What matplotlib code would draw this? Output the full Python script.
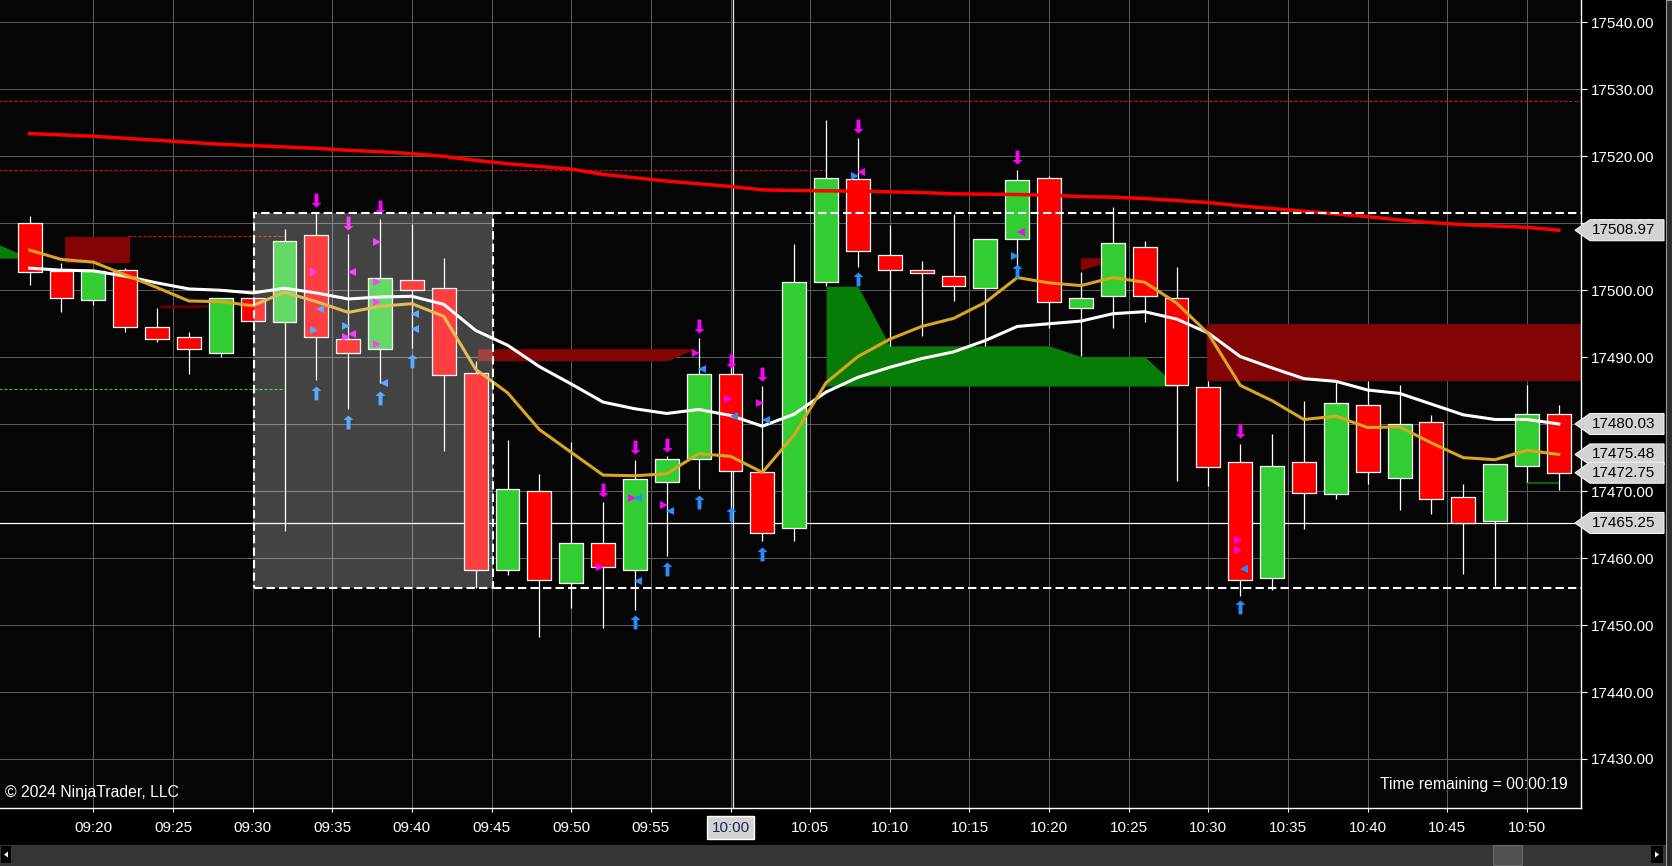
import matplotlib
matplotlib.use("Agg")
import matplotlib.pyplot as plt
from matplotlib.patches import Polygon, Rectangle
from matplotlib.path import Path
from matplotlib.transforms import IdentityTransform

plt.rcParams["font.family"] = ["Liberation Sans", "DejaVu Sans"]

W, H = 1672, 866

# 2 minute bars, 09:16 .. 10:52
bar_times = ["09:16", "09:18", "09:20", "09:22", "09:24", "09:26", "09:28",
             "09:30", "09:32", "09:34", "09:36", "09:38", "09:40", "09:42",
             "09:44", "09:46", "09:48", "09:50", "09:52", "09:54", "09:56",
             "09:58", "10:00", "10:02", "10:04", "10:06", "10:08", "10:10",
             "10:12", "10:14", "10:16", "10:18", "10:20", "10:22", "10:24",
             "10:26", "10:28", "10:30", "10:32", "10:34", "10:36", "10:38",
             "10:40", "10:42", "10:44", "10:46", "10:48", "10:50", "10:52"]
opens = [17510.1, 17502.9, 17498.6, 17503.0, 17494.5, 17493.0, 17490.7,
         17498.9, 17495.3, 17508.2, 17492.7, 17491.2, 17501.5, 17500.4,
         17487.6, 17458.2, 17470.0, 17456.3, 17462.3, 17458.2, 17471.3,
         17474.8, 17487.5, 17472.9, 17464.5, 17501.3, 17516.6, 17505.2,
         17503.0, 17502.2, 17500.3, 17507.7, 17516.7, 17497.4, 17499.2,
         17506.5, 17498.9, 17485.5, 17474.3, 17457.0, 17474.3, 17469.5,
         17482.9, 17471.9, 17480.3, 17469.2, 17465.5, 17473.7, 17481.5]
highs = [17511.1, 17504.0, 17503.1, 17503.3, 17497.3, 17493.8, 17498.9,
         17498.9, 17509.1, 17511.7, 17508.4, 17510.6, 17509.9, 17504.8,
         17489.4, 17477.7, 17472.5, 17477.4, 17468.4, 17474.7, 17475.2,
         17492.9, 17488.8, 17485.7, 17506.9, 17525.5, 17522.8, 17509.8,
         17504.4, 17511.4, 17507.7, 17517.9, 17517.1, 17502.7, 17512.4,
         17507.3, 17503.5, 17486.4, 17477.1, 17478.6, 17483.4, 17486.4,
         17486.5, 17485.8, 17481.3, 17471.0, 17474.0, 17485.8, 17482.9]
lows = [17500.8, 17496.8, 17497.8, 17493.7, 17492.2, 17487.5, 17490.1,
        17495.3, 17464.0, 17486.6, 17482.3, 17486.1, 17491.4, 17476.0,
        17455.5, 17457.5, 17448.2, 17452.6, 17449.6, 17452.3, 17460.3,
        17470.3, 17465.6, 17462.6, 17462.6, 17500.7, 17503.5, 17491.7,
        17493.2, 17498.4, 17491.7, 17503.4, 17494.3, 17490.2, 17494.4,
        17495.2, 17471.5, 17470.7, 17454.3, 17455.2, 17464.3, 17468.8,
        17471.1, 17467.2, 17466.6, 17457.7, 17455.8, 17471.4, 17470.2]
closes = [17502.7, 17498.9, 17502.9, 17494.5, 17492.7, 17491.2, 17498.9,
          17495.4, 17507.4, 17493.0, 17490.7, 17501.9, 17500.1, 17487.4,
          17458.2, 17470.3, 17456.8, 17462.3, 17458.6, 17471.8, 17474.8,
          17487.5, 17473.0, 17463.8, 17501.3, 17516.7, 17505.8, 17503.0,
          17502.6, 17500.6, 17507.7, 17516.5, 17498.2, 17498.9, 17507.0,
          17499.2, 17485.8, 17473.6, 17456.7, 17473.7, 17469.7, 17483.2,
          17472.8, 17480.0, 17468.8, 17465.3, 17474.0, 17481.5, 17472.75]

# moving averages
ema_fast = [17506.0, 17504.6, 17504.2, 17502.3, 17500.4, 17498.4, 17498.3,
            17497.7, 17499.7, 17498.3, 17496.7, 17497.6, 17498.0, 17496.1,
            17488.2, 17484.7, 17479.2, 17475.8, 17472.4, 17472.3, 17472.6,
            17475.6, 17475.2, 17472.8, 17478.4, 17486.2, 17490.1, 17492.7,
            17494.6, 17495.8, 17498.2, 17501.9, 17501.1, 17500.7, 17501.9,
            17501.2, 17498.1, 17493.5, 17485.8, 17483.5, 17480.7, 17481.2,
            17479.5, 17479.6, 17477.2, 17475.0, 17474.7, 17476.1, 17475.48]
ema_slow = [17503.3, 17503.0, 17502.9, 17502.1, 17501.1, 17500.2, 17500.0,
            17499.6, 17500.3, 17499.6, 17498.7, 17499.0, 17499.1, 17497.9,
            17494.0, 17491.8, 17488.6, 17486.0, 17483.3, 17482.3, 17481.6,
            17482.2, 17481.3, 17479.7, 17481.5, 17484.8, 17487.0, 17488.5,
            17489.8, 17490.8, 17492.5, 17494.6, 17495.0, 17495.4, 17496.5,
            17496.8, 17495.7, 17493.6, 17490.1, 17488.4, 17486.8, 17486.4,
            17485.1, 17484.6, 17483.0, 17481.4, 17480.7, 17480.7, 17480.03]
sma_long = [17523.4, 17523.2, 17523.0, 17522.7, 17522.4, 17522.1, 17521.8,
            17521.6, 17521.4, 17521.2, 17520.9, 17520.7, 17520.4, 17520.0,
            17519.4, 17518.9, 17518.5, 17518.1, 17517.3, 17516.8, 17516.3,
            17515.9, 17515.5, 17515.0, 17514.9, 17514.85, 17514.8, 17514.7,
            17514.6, 17514.4, 17514.35, 17514.3, 17514.2, 17514.0, 17513.9,
            17513.7, 17513.4, 17513.1, 17512.6, 17512.2, 17511.8, 17511.4,
            17511.0, 17510.5, 17510.1, 17509.8, 17509.6, 17509.4, 17508.97]

# signal arrows (price at the arrow tip)
down_times = ["09:34", "09:36", "09:38", "09:52", "09:54", "09:56",
              "09:58", "10:00", "10:02", "10:08", "10:18", "10:32"]
down_tips = [17512.5, 17509.0, 17511.4, 17469.2, 17475.5, 17475.8,
             17493.6, 17488.4, 17486.5, 17523.5, 17518.8, 17478.0]
up_times = ["09:34", "09:36", "09:38", "09:40", "09:54", "09:56",
            "09:58", "10:00", "10:02", "10:08", "10:18", "10:32"]
up_tips = [17485.7, 17481.4, 17485.0, 17490.5, 17451.5, 17459.4,
           17469.4, 17467.6, 17461.7, 17502.7, 17503.9, 17453.7]

# small triangles (m = magenta, b = blue; > or < direction)
tri_times = ["09:34", "09:34", "09:34", "09:36", "09:36", "09:36", "09:36",
             "09:38", "09:38", "09:38", "09:38", "09:38", "09:40", "09:40",
             "09:52", "09:54", "09:54", "09:54", "09:56", "09:56", "09:58",
             "09:58", "10:00", "10:00", "10:02", "10:02", "10:08", "10:08",
             "10:18", "10:18", "10:32", "10:32", "10:32"]
tri_prices = [17502.7, 17497.25, 17494.0, 17502.8, 17494.6, 17493.0, 17493.5,
              17507.2, 17501.2, 17498.2, 17492.0, 17486.2, 17496.5, 17494.2,
              17458.6, 17469.0, 17469.0, 17456.6, 17467.9, 17467.0, 17490.7,
              17488.2, 17483.7, 17481.2, 17483.2, 17480.6, 17517.0, 17517.6,
              17508.7, 17505.1, 17462.7, 17461.2, 17458.4]
tri_kinds = ["m>", "b<", "b>", "m<", "b>", "m>", "m<",
             "m>", "m>", "m>", "m>", "b<", "b<", "b<",
             "m>", "m>", "b<", "b<", "m>", "b<", "m>",
             "b<", "m>", "b<", "m>", "b<", "b>", "m<",
             "m<", "b>", "m>", "m>", "b<"]

# zones
green_zone_t = ["10:06", "10:08", "10:10", "10:20", "10:22", "10:26", "10:28"]
green_zone_top = [17500.6, 17500.6, 17491.7, 17491.7, 17490.1, 17490.1, 17485.7]
green_zone_bottom = 17485.7
green_edge_t = ["09:14", "09:16"]
green_edge_top = [17506.9, 17504.8]
green_edge_bottom = 17504.8
red_rect_t = [("09:18.2", "09:22.3"), ("10:29.9", "10:58")]
red_rect_p = [(17504.1, 17508.0), (17486.4, 17495.0)]
red_band_t = ["09:44.15", "09:57.8", "09:56.1", "09:44.15"]
red_band_p = [17491.2, 17491.2, 17489.4, 17489.4]
red_thin_t = ["09:24.2", "09:27.7", "09:26.6", "09:24.2"]
red_thin_p = [17497.75, 17497.75, 17497.3, 17497.3]
red_flag_t = ["10:22.0", "10:23.2", "10:23.2", "10:22.0"]
red_flag_p = [17504.8, 17504.8, 17503.8, 17502.9]

# dotted level lines: (price, start, end, colour)
level_prices = [17528.2, 17517.9, 17508.1, 17485.2]
level_starts = ["09:10", "09:10", "09:22.2", "09:10"]
level_ends = ["11:00", "10:06", "09:32", "09:32"]
level_colors = ["#e01010", "#e01010", "#e01010", "#10e010"]

# highlighted range box
box_t = ("09:30.1", "09:45.1")
box_p = (17455.5, 17511.6)
last_line = 17465.25
crosshair_t = "10:00.16"
short_green_t = ["10:50", "10:52"]
short_green_p = 17471.2

price_labels = [17508.97, 17480.03, 17475.48, 17472.75, 17465.25]
tick_labels = ["09:20", "09:25", "09:30", "09:35", "09:40", "09:45", "09:50",
               "09:55", "10:00", "10:05", "10:10", "10:15", "10:20", "10:25",
               "10:30", "10:35", "10:40", "10:45", "10:50"]
y_ticks = [17430, 17440, 17450, 17460, 17470, 17480, 17490, 17500, 17510,
           17520, 17530, 17540]


def to_min(s):
    h, m = s.split(":")
    return int(h) * 60 + float(m)


def arrow_path(direction):
    # tip at (0, 0), shaft going away from the tip
    s = 1 if direction == "down" else -1
    pts = [(0, 0), (0.36, 0.32), (0.14, 0.32), (0.14, 1), (-0.14, 1),
           (-0.14, 0.32), (-0.36, 0.32), (0, 0)]
    return Path([(x, s * y) for x, y in pts], closed=True)


fig = plt.figure(figsize=(W / 100, H / 100), dpi=100, facecolor="#000000")
ax = fig.add_axes([0, (H - 808) / H, 1581 / W, 808 / H])
ax.set_facecolor("#050505")
ax.set_xlim(554.14, 653.39)
ax.set_ylim(17422.68, 17543.35)
x0, x1 = ax.get_xlim()

# axes, grid
ax.set_xticks([to_min(t) for t in tick_labels])
ax.set_xticklabels(tick_labels)
ax.set_yticks(y_ticks)
ax.set_yticklabels([f"{v:.2f}" for v in y_ticks])
ax.yaxis.tick_right()
ax.grid(True, color="#5b5b5b", lw=0.75)
ax.set_axisbelow(True)
for side in ["top", "left"]:
    ax.spines[side].set_visible(False)
for side in ["right", "bottom"]:
    ax.spines[side].set_color("white")
    ax.spines[side].set_linewidth(1.0)
ax.tick_params(axis="x", colors="white", length=3, width=0.8, pad=6, labelsize=11)
ax.tick_params(axis="y", colors="white", length=4.3, width=0.8, pad=2.5, labelsize=11)

hi_idx = tick_labels.index("10:00")
lbl = ax.get_xticklabels()[hi_idx]
lbl.set_color("#1c2a5a")
lbl.set_bbox(dict(facecolor="#d3d3d3", edgecolor="white", linewidth=1,
                  boxstyle="square,pad=0.3"))

# zones
ax.fill_between([to_min(t) for t in green_zone_t], green_zone_top,
                green_zone_bottom, color="#077d07", lw=0, zorder=1)
ax.fill_between([to_min(t) for t in green_edge_t], green_edge_top,
                green_edge_bottom, color="#077d07", lw=0, zorder=1)
for (ta, tb), (pa, pb) in zip(red_rect_t, red_rect_p):
    ax.fill_between([to_min(ta), to_min(tb)], pa, pb, color="#820404", lw=0, zorder=1)
for zt, zp, col in [(red_band_t, red_band_p, "#820404"),
                    (red_thin_t, red_thin_p, "#640000"),
                    (red_flag_t, red_flag_p, "#820404")]:
    ax.add_patch(Polygon(list(zip([to_min(t) for t in zt], zp)), closed=True,
                         facecolor=col, lw=0, zorder=1))

# level lines
for p, a, b, c in zip(level_prices, level_starts, level_ends, level_colors):
    ax.hlines(p, to_min(a), to_min(b), color=c, lw=0.8, ls=(0, (2.7, 1.8)), zorder=1.5)
ax.axhline(last_line, color="white", lw=0.9, zorder=1.5)
ax.axvline(to_min(crosshair_t), color="#e8e8e8", lw=0.9, zorder=1.5)
ax.plot([to_min(t) for t in short_green_t], [short_green_p] * 2,
        color="#0b5e0b", lw=1.6, zorder=1.5)

# candles
xs = [to_min(t) for t in bar_times]
body_lo = [min(o, c) for o, c in zip(opens, closes)]
body_h = [max(abs(c - o), 0.25) for o, c in zip(opens, closes)]
colors = ["#32cd32" if c >= o else "#ff0000" for o, c in zip(opens, closes)]
ax.vlines(xs, lows, highs, color="white", lw=0.9, zorder=2)
ax.bar(xs, body_h, bottom=body_lo, width=1.5, color=colors,
       edgecolor="white", linewidth=0.9, zorder=2.5)

# indicators
ax.plot(xs, sma_long, color="#ff0000", lw=2.5, zorder=3)
ax.plot(xs, ema_slow, color="white", lw=2.2, zorder=3.1)
ax.plot(xs, ema_fast, color="#daa520", lw=2.2, zorder=3.2)

# signals
ax.plot([to_min(t) for t in down_times], down_tips, ls="none",
        marker=arrow_path("down"), ms=20, mew=0, color="#ff00ff", zorder=4)
ax.plot([to_min(t) for t in up_times], up_tips, ls="none",
        marker=arrow_path("up"), ms=20, mew=0, color="#2490ff", zorder=4)
for t, p, k in zip(tri_times, tri_prices, tri_kinds):
    col = "#ff00ff" if k[0] == "m" else "#2490ff"
    dx = -0.17 if k[1] == ">" else 0.22
    ax.plot(to_min(t) + dx, p, ls="none", marker=k[1], ms=6, mew=0,
            color=col, zorder=4)

# range box
bt0, bt1 = to_min(box_t[0]), to_min(box_t[1])
ax.add_patch(Rectangle((bt0, box_p[0]), bt1 - bt0, box_p[1] - box_p[0],
                       facecolor="white", alpha=0.25, lw=0, zorder=5))
ax.add_patch(Rectangle((bt0, box_p[0]), bt1 - bt0, box_p[1] - box_p[0],
                       fill=False, edgecolor="white", lw=1.5, ls=(0, (4, 2)), zorder=6))
ax.hlines(box_p, bt1, x1, color="white", lw=1.5, ls=(0, (4, 2)), zorder=6)

# price markers on the right axis
for v in price_labels:
    yd = ax.transData.transform((x0, v))[1]
    verts = [(1575, yd), (1590, yd + 10.5), (1664, yd + 10.5),
             (1664, yd - 10.5), (1590, yd - 10.5)]
    fig.add_artist(Polygon(verts, closed=True, transform=IdentityTransform(),
                           facecolor="#d3d3d3", edgecolor="#f2f2f2", lw=0.8))
    fig.text(1592 / W, yd / H, f"{v:.2f}", color="black", fontsize=11,
             va="center", ha="left")

# texts
fig.text(5 / W, 1 - 792 / H, "\u00a9 2024 NinjaTrader, LLC", color="white",
         fontsize=11.3, va="center", ha="left")
fig.text(1568 / W, 1 - 785 / H, "Time remaining = 00:00:19", color="white",
         fontsize=11.3, va="center", ha="right")

# scroll bar and frame
fig.add_artist(Rectangle((0, 0), 1666 / W, 21 / H, transform=fig.transFigure,
                         facecolor="#353535", lw=0))
fig.add_artist(Rectangle((1493 / W, 1 / H), 29 / W, 20 / H, transform=fig.transFigure,
                         facecolor="#505050", edgecolor="#6a6a6a", lw=0.8))
fig.add_artist(Rectangle((1 / W, 3 / H), 10 / W, 17 / H, transform=fig.transFigure,
                         facecolor="black", lw=0))
fig.add_artist(Rectangle((1651 / W, 3 / H), 12 / W, 17 / H, transform=fig.transFigure,
                         facecolor="black", lw=0))
fig.add_artist(Polygon([(4 / W, 11.5 / H), (8 / W, 14.5 / H), (8 / W, 8.5 / H)],
                       transform=fig.transFigure, facecolor="white", lw=0))
fig.add_artist(Polygon([(1659 / W, 11.5 / H), (1655 / W, 14.5 / H), (1655 / W, 8.5 / H)],
                       transform=fig.transFigure, facecolor="white", lw=0))
fig.add_artist(Rectangle((1666 / W, 0), 6 / W, 1, transform=fig.transFigure,
                         facecolor="#2c2c2c", edgecolor="#9a9a9a", lw=0.8))

fig.savefig("out.png", dpi=100, facecolor=fig.get_facecolor())
